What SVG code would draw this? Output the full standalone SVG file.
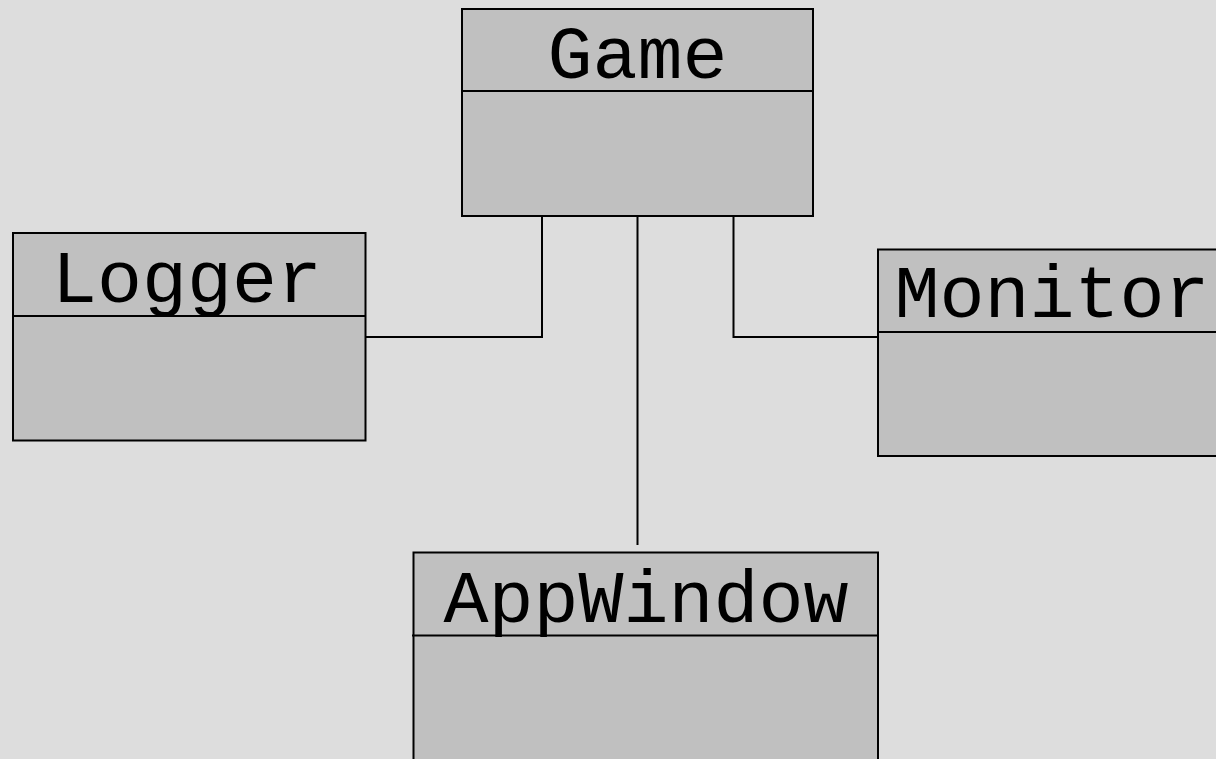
<svg xmlns="http://www.w3.org/2000/svg" width="1216" height="759" viewBox="0 0 1216 759">
<style>
.box{fill:#c0c0c0;stroke:#000;stroke-width:2}
.div{stroke:#000;stroke-width:2}
.lbl{font-family:"Liberation Mono","Courier New",monospace;font-size:75px;fill:#000;text-anchor:middle}
.conn{fill:none;stroke:#000;stroke-width:2}
</style>
<rect width="1216" height="759" fill="#dddddd"/>
<g id="connectors">
<polyline class="conn" points="542,217 542,337 366,337"/>
<line class="conn" x1="637.5" y1="217" x2="637.5" y2="545"/>
<polyline class="conn" points="733.5,217 733.5,337 878,337"/>
</g>
<g id="Game">
<rect class="box" x="462" y="9" width="351" height="207"/>
<line class="div" x1="462" y1="91" x2="813" y2="91"/>
<text class="lbl" x="637.5" y="78">Game</text>
</g>
<g id="Logger">
<rect class="box" x="13" y="233" width="352.5" height="207.5"/>
<line class="div" x1="13" y1="316" x2="365.5" y2="316"/>
<text class="lbl" x="187" y="302">Logger</text>
</g>
<g id="Monitor">
<rect class="box" x="878" y="249.5" width="350" height="206.5"/>
<line class="div" x1="878" y1="332" x2="1228" y2="332"/>
<text class="lbl" x="1052" y="317">Monitor</text>
</g>
<g id="AppWindow">
<rect class="box" x="413.5" y="552.5" width="464.5" height="220"/>
<line class="div" x1="412" y1="635.5" x2="878" y2="635.5"/>
<text class="lbl" x="646" y="622">AppWindow</text>
</g>
</svg>
